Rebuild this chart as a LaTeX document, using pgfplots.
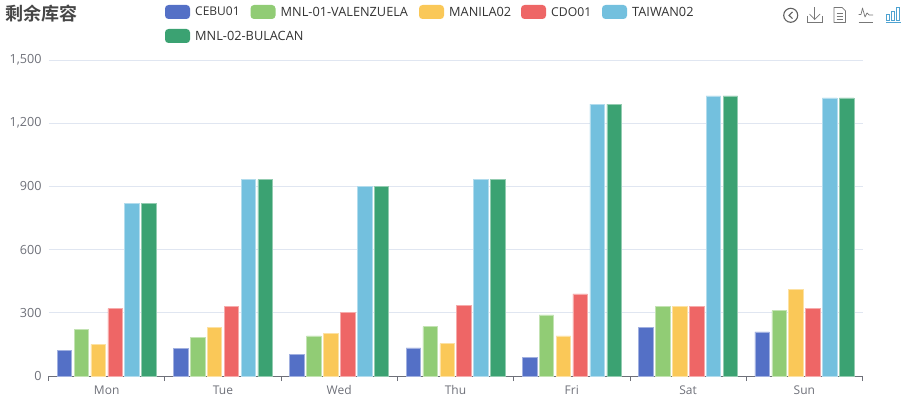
\documentclass[border=0pt]{standalone}
\usepackage{pgfplots}
\pgfplotsset{compat=1.18}
\usepackage{fontspec}
\setmainfont{Open Sans}
\newfontfamily\cjk{Noto Sans CJK SC}[BoldFont={Noto Sans CJK SC Bold}]
\definecolor{c1}{HTML}{5470C6}
\definecolor{c2}{HTML}{91CC75}
\definecolor{c3}{HTML}{FAC858}
\definecolor{c4}{HTML}{EE6666}
\definecolor{c5}{HTML}{73C0DE}
\definecolor{c6}{HTML}{3BA272}
\definecolor{gridc}{HTML}{E0E6F1}
\definecolor{axisc}{HTML}{6E7079}
\definecolor{legt}{HTML}{333333}
\definecolor{titlec}{HTML}{464646}
\definecolor{iconc}{HTML}{777777}
\definecolor{iconb}{HTML}{4FA3D1}
\begin{document}
\begin{tikzpicture}[x=1pt,y=1pt]
\path[use as bounding box] (0,0) rectangle (908,400);
\begin{axis}[
  at={(48.5pt,24pt)},anchor=south west,
  scale only axis,width=814pt,height=316pt,
  xmin=-0.5,xmax=6.5,ymin=0,ymax=1500,
  ybar=2.4pt,bar width=14.5pt,
  axis x line*=bottom,axis y line*=left,
  y axis line style={draw=none},
  x axis line style={-,draw=axisc,line width=0.8pt},
  xtick={0,1,2,3,4,5,6},
  xticklabels={Mon,Tue,Wed,Thu,Fri,Sat,Sun},
  minor xtick={-0.5,0.5,1.5,2.5,3.5,4.5,5.5,6.5},
  major tick length=0pt,minor tick length=5pt,tick align=outside,
  minor x tick style={draw=axisc,line width=0.8pt},
  ytick={0,300,600,900,1200,1500},
  ytick style={draw=none},
  ymajorgrids,
  grid style={draw=gridc,line width=0.8pt},
  /pgf/number format/assume math mode=true,
  /pgf/number format/1000 sep={,},
  scaled y ticks=false,
  tick label style={font=\fontsize{12}{14}\selectfont,text=axisc},
  xticklabel style={yshift=-6pt},
  yticklabel style={font=\fontsize{12.6}{14}\selectfont,xshift=-3.5pt},
]
\addplot[fill=c1,draw=c1!55!white,line width=0.5pt] coordinates {(0,120)(1,132)(2,101)(3,134)(4,90)(5,230)(6,210)};
\addplot[fill=c2,draw=c2!55!white,line width=0.5pt] coordinates {(0,220)(1,182)(2,191)(3,234)(4,290)(5,330)(6,310)};
\addplot[fill=c3,draw=c3!55!white,line width=0.5pt] coordinates {(0,150)(1,232)(2,201)(3,154)(4,190)(5,330)(6,410)};
\addplot[fill=c4,draw=c4!55!white,line width=0.5pt] coordinates {(0,320)(1,332)(2,301)(3,334)(4,390)(5,330)(6,320)};
\addplot[fill=c5,draw=c5!55!white,line width=0.5pt] coordinates {(0,820)(1,932)(2,901)(3,934)(4,1290)(5,1330)(6,1320)};
\addplot[fill=c6,draw=c6!55!white,line width=0.5pt] coordinates {(0,820)(1,932)(2,901)(3,934)(4,1290)(5,1330)(6,1320)};
\end{axis}
% title
\node[anchor=west,text=titlec,font=\cjk\bfseries\fontsize{18}{20}\selectfont,inner sep=0pt] at (5,386) {剩余库容};
% legend
\newcommand{\leg}[5]{%
  \fill[#3,rounded corners=3.5pt] (#1,#2-7) rectangle ++(25,14);
  \node[anchor=west,text=legt,font=\fontsize{#5}{14}\selectfont,inner sep=0pt] at (#1+30,#2+0.3) {#4};}
\leg{165}{388}{c1}{CEBU01}{12}
\leg{250.5}{388}{c2}{MNL-01-VALENZUELA}{12.75}
\leg{419}{388}{c3}{MANILA02}{12.75}
\leg{521}{388}{c4}{CDO01}{12.2}
\leg{602}{388}{c5}{TAIWAN02}{12.75}
\leg{165}{364}{c6}{MNL-02-BULACAN}{12.75}
% toolbox
\begin{scope}[draw=iconc,line width=0.7pt]
\draw[line width=1.1pt,draw=iconc!80!black] (790.7,384.7) circle (7);
\draw[line width=1.1pt,draw=iconc!80!black] (792.5,388) -- (789,384.7) -- (792.5,381.4);
\draw (807.5,384) -- (807.5,377.5) -- (822,377.5) -- (822,384);
\draw (814.7,392.5) -- (814.7,380.5);
\draw (809.5,386) -- (814.7,380.5) -- (820,386);
\draw[line join=round] (834,392.5) -- (842,392.5) -- (845.5,389) -- (845.5,377.5) -- (834,377.5) -- cycle;
\draw (836.5,387) -- (843,387) (836.5,384) -- (843,384) (836.5,381) -- (843,381);
\draw (858.5,377.5) -- (873,377.5);
\draw[line join=round] (858.5,385.5) -- (861,385.5) -- (862.5,392) -- (865,383) -- (867,387) -- (869,385) -- (873,385);
\end{scope}
\begin{scope}[draw=iconb,line width=0.8pt]
\draw (886,377.5) -- (900.5,377.5);
\draw (886.5,380) rectangle (889,386);
\draw (891.5,380) rectangle (894,389);
\draw (896.5,380) rectangle (899.5,392.5);
\end{scope}
\end{tikzpicture}
\end{document}
